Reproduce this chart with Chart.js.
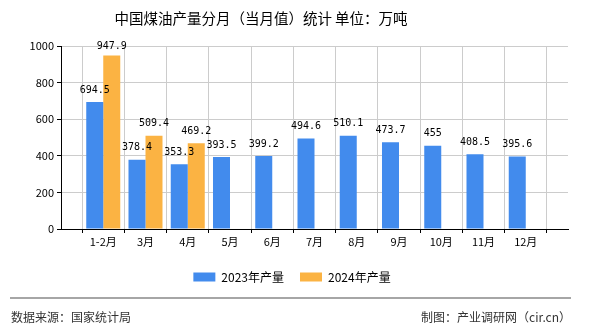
<!DOCTYPE html>
<html>
<head>
<meta charset="utf-8">
<script src="https://cdn.jsdelivr.net/npm/chart.js@4/dist/chart.umd.min.js"></script>
<style>
  body { margin: 0; background: #fff; }
  canvas { display: block; }
</style>
</head>
<body>
<canvas id="chart" width="590" height="330"></canvas>
<script>
// data
const months = ['1-2月', '3月', '4月', '5月', '6月', '7月', '8月', '9月', '10月', '11月', '12月']
const output2023 = [694.5, 378.4, 353.3, 393.5, 399.2, 494.6, 510.1, 473.7, 455, 408.5, 395.6]
const output2024 = [947.9, 509.4, 469.2]
const yTicks = [0, 200, 400, 600, 800, 1000]

const titleText = '中国煤油产量分月（当月值）统计 单位：万吨'
const sourceText = '数据来源：国家统计局'
const makerText = '制图：产业调研网（cir.cn）'

const CJK = '"Noto Sans CJK SC", "Noto Sans", sans-serif'

// empty slot at each end, so the ticks sit on the months
const labels = [''].concat(months, [''])
const pad = (arr) => {
	const out = [null]
	for (let i = 0; i < months.length; i++) out.push(i < arr.length ? arr[i] : null)
	out.push(null)
	return out
}

const valueLabels = {
	id: 'valueLabels',
	afterDatasetsDraw(chart) {
		const ctx = chart.ctx
		ctx.save()
		ctx.font = '10px "DejaVu Sans Mono", monospace'
		ctx.fillStyle = '#000'
		ctx.textAlign = 'center'
		ctx.textBaseline = 'middle'
		chart.data.datasets.forEach((ds, di) => {
			chart.getDatasetMeta(di).data.forEach((bar, i) => {
				const v = ds.data[i]
				if (v == null) return
				const y = Math.max(bar.y - 12, chart.chartArea.top)
				ctx.fillText(String(v), bar.x, y)
			})
		})
		ctx.restore()
	}
}

const frame = {
	id: 'frame',
	beforeDraw(chart) {
		const ctx = chart.ctx
		ctx.save()
		ctx.fillStyle = '#fff'
		ctx.fillRect(0, 0, chart.width, chart.height)
		ctx.restore()
	},
	afterDraw(chart) {
		const ctx = chart.ctx
		ctx.save()
		ctx.fillStyle = '#000'
		ctx.font = '14.5px ' + CJK
		ctx.textAlign = 'center'
		ctx.textBaseline = 'middle'
		ctx.fillText(titleText, 261, 18)

		ctx.strokeStyle = '#888'
		ctx.lineWidth = 1.5
		ctx.beginPath()
		ctx.moveTo(10, 298)
		ctx.lineTo(571, 298)
		ctx.stroke()

		ctx.fillStyle = '#333'
		ctx.font = '12px ' + CJK
		ctx.textAlign = 'left'
		ctx.fillText(sourceText, 11, 317)
		ctx.textAlign = 'right'
		ctx.fillText(makerText, 571, 317)
		ctx.restore()
	}
}

Chart.defaults.font.family = CJK
Chart.defaults.color = '#000'

new Chart(document.getElementById('chart'), {
	type: 'bar',
	data: {
		labels: labels,
		datasets: [
			{label: '2023年产量', data: pad(output2023), backgroundColor: '#428bed', borderWidth: 0},
			{label: '2024年产量', data: pad(output2024), backgroundColor: '#fbb343', borderWidth: 0}
		]
	},
	options: {
		responsive: false,
		animation: false,
		layout: {padding: {left: 16, right: 22, top: 46, bottom: 37}},
		datasets: {bar: {categoryPercentage: 0.805, barPercentage: 1}},
		scales: {
			x: {
				offset: false,
				afterFit(scale) { scale.height = 26 },
				grid: {color: '#ccc', tickColor: '#000', tickLength: 4},
				border: {color: '#000', width: 1},
				ticks: {font: {size: 11}, color: '#000', padding: 2, maxRotation: 0, autoSkip: false}
			},
			y: {
				min: 0,
				max: 1000,
				afterFit(scale) { scale.width = 45 },
				afterBuildTicks(scale) { scale.ticks = yTicks.map(v => ({value: v})) },
				grid: {color: '#ccc', tickColor: '#000', tickLength: 4},
				border: {color: '#000', width: 1},
				ticks: {font: {size: 11}, color: '#000', padding: 3, callback: (v) => String(v)}
			}
		},
		plugins: {
			title: {display: false},
			tooltip: {enabled: false},
			legend: {
				position: 'bottom',
				labels: {boxWidth: 22, boxHeight: 9, padding: 16, color: '#000', font: {size: 12}}
			}
		}
	},
	plugins: [valueLabels, frame]
})
</script>
</body>
</html>
